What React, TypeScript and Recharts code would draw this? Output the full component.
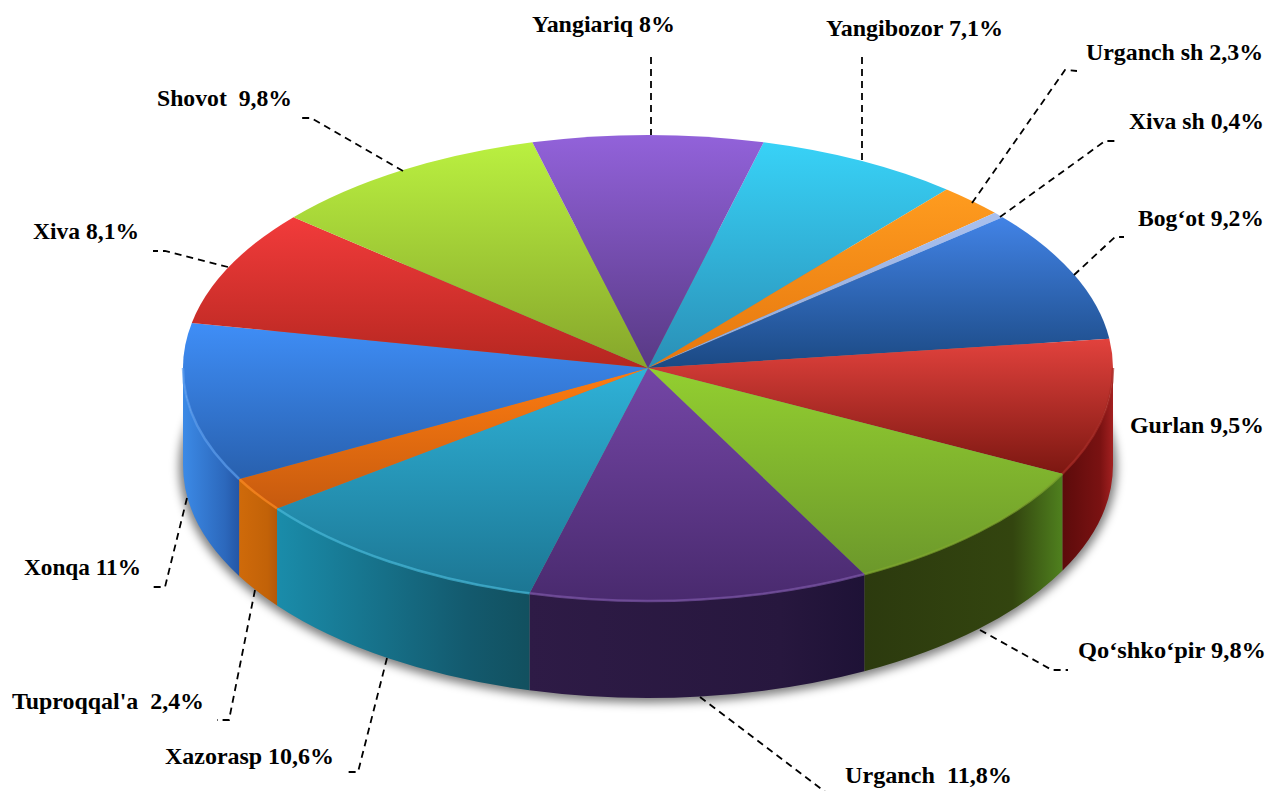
import { PieChart, Pie } from 'recharts'

// 3D-looking pie: Pie computes the angles, the custom shape squashes them into an ellipse
const districts = ['Yangibozor', 'Urganch sh', 'Xiva sh', 'Bog‘ot', 'Gurlan', 'Qo‘shko‘pir', 'Urganch', 'Xazorasp', "Tuproqqal'a", 'Xonqa', 'Xiva', 'Shovot', 'Yangiariq']
const shares = [7.1, 2.3, 0.4, 9.2, 9.5, 9.8, 11.8, 10.6, 2.4, 11, 8.1, 9.8, 8]
const labelTexts = ['Yangibozor 7,1%', 'Urganch sh 2,3%', 'Xiva sh 0,4%', 'Bog‘ot 9,2%', 'Gurlan 9,5%', 'Qo‘shko‘pir 9,8%', 'Urganch  11,8%', 'Xazorasp 10,6%', "Tuproqqal'a  2,4%", 'Xonqa 11%', 'Xiva 8,1%', 'Shovot  9,8%', 'Yangiariq 8%']

const topLight = ['#38d2f7', '#ff9c1f', '#a9c0ee', '#4283e6', '#e2423d', '#93cf30', '#7446a6', '#2fb2d8', '#ff7d10', '#3f8ef7', '#f23b3b', '#baf040', '#9262da']
const topDark = ['#2a8fb6', '#e5760e', '#90a8d8', '#1b4983', '#7c1711', '#6c982b', '#492a6e', '#1c7693', '#c65a0f', '#2860ae', '#b52720', '#86a62b', '#583984']
const wallLeft = ['#2a8fb6', '#e5760e', '#90a8d8', '#1b4983', '#5c0b0b', '#2c3a0e', '#2e1b46', '#1a8caa', '#cf6a0a', '#3c8ae6', '#b52720', '#86a62b', '#583984']
const wallMid = ['#2a8fb6', '#e5760e', '#90a8d8', '#1b4983', '#7a1212', '#33450f', '#27173e', '#135a6e', '#c26208', '#2c68bc', '#b52720', '#86a62b', '#583984']
const wallRight = ['#2a8fb6', '#e5760e', '#90a8d8', '#1b4983', '#a32020', '#4f801e', '#1e1236', '#12505f', '#b55808', '#2456a6', '#b52720', '#86a62b', '#583984']
const rimColors = ['#38d2f7', '#ff9c1f', '#a9c0ee', '#4283e6', '#a82a24', '#7fa82c', '#7c55a8', '#45b8d8', '#ff8a20', '#5a9cf0', '#f23b3b', '#baf040', '#9262da']

const pieData = districts.map((name, i) => ({ name, value: shares[i] }))

const CX = 648
const CY = 368
const RX = 465
const RY = 233
const DEPTH = 97

const labelX = [826, 1086, 1129, 1138, 1130, 1078, 845, 165, 12, 24, 33, 157, 532]
const labelBase = [36, 60, 129, 226, 433, 658, 783, 764, 709, 575, 239, 106, 32]
const labelWidth = [177, 177, 135, 126, 134, 188, 167, 169, 192, 117, 106, 135, 143]
const leaders = [
  '862,57 862,163',
  '972,203 1065,70 1077,71',
  '1000,217 1105,141 1118,141',
  '1074,275 1115,237 1124,237',
  '',
  '980,630 1052,670 1068,670',
  '700,697 832,797',
  '387,658 358,772 345,772',
  '255,590 229,720 217,720',
  '187,498 165,587 153,587',
  '228,267 165,251 153,251',
  '403,171 311,118 302,118',
  '651,57 651,135',
]

const pt = (a: number, dy = 0) => {
  const rad = (a * Math.PI) / 180
  return `${CX + RX * Math.cos(rad)} ${CY - RY * Math.sin(rad) + dy}`
}

function Slice3D(props: any) {
  const { startAngle, endAngle, index } = props
  const large = startAngle - endAngle > 180 ? 1 : 0
  const top = `M ${CX} ${CY} L ${pt(startAngle)} A ${RX} ${RY} 0 ${large} 1 ${pt(endAngle)} Z`
  // only the front half of the rim has a visible wall
  const from = Math.min(startAngle, 0)
  const to = Math.max(endAngle, -180)
  const hasWall = from > to
  return (
    <g>
      {hasWall && (
        <path
          d={`M ${pt(from)} A ${RX} ${RY} 0 0 1 ${pt(to)} L ${pt(to, DEPTH)} A ${RX} ${RY} 0 0 0 ${pt(from, DEPTH)} Z`}
          fill={`url(#wall${index})`}
        />
      )}
      <path d={top} fill={`url(#top${index})`} />
      {hasWall && (
        <path
          d={`M ${pt(from)} A ${RX} ${RY} 0 0 1 ${pt(to)}`}
          fill="none"
          stroke={rimColors[index]}
          strokeWidth={2.5}
          strokeOpacity={0.7}
        />
      )}
    </g>
  )
}

function SliceLabel(props: any) {
  const i = props.index
  return (
    <g>
      {leaders[i] && (
        <polyline points={leaders[i]} fill="none" stroke="#000" strokeWidth={1.8} strokeDasharray="7 5" />
      )}
      <text
        x={labelX[i]}
        y={labelBase[i]}
        textLength={labelWidth[i]}
        lengthAdjust="spacingAndGlyphs"
        fontFamily="'Liberation Serif', serif"
        fontWeight="bold"
        fontSize={24}
        fill="#000"
        style={{ whiteSpace: 'pre' }}
      >
        {labelTexts[i]}
      </text>
    </g>
  )
}

export default function App() {
  return (
    <div style={{ position: 'absolute', left: 0, top: 0, width: 1266, height: 791, background: '#fff', overflow: 'hidden' }}>
      <PieChart width={1266} height={791} margin={{ top: 0, right: 0, bottom: 0, left: 0 }}>
        <defs>
          <filter id="pieShadow" x="-10%" y="-10%" width="120%" height="120%">
            <feGaussianBlur stdDeviation="5" />
          </filter>
          {districts.map((d, i) => (
            <linearGradient key={d} id={`top${i}`} x1="0" y1="0" x2="0" y2="1">
              <stop offset="0%" stopColor={topLight[i]} />
              <stop offset="100%" stopColor={topDark[i]} />
            </linearGradient>
          ))}
          {districts.map((d, i) => (
            <linearGradient key={d} id={`wall${i}`} x1="0" y1="0" x2="1" y2="0">
              <stop offset="0%" stopColor={wallLeft[i]} />
              <stop offset="75%" stopColor={wallMid[i]} />
              <stop offset="100%" stopColor={wallRight[i]} />
            </linearGradient>
          ))}
        </defs>
        <ellipse cx={CX} cy={CY + DEPTH + 2} rx={RX + 4} ry={RY + 3} fill="#000" fillOpacity={0.5} filter="url(#pieShadow)" />
        <Pie
          data={pieData}
          dataKey="value"
          nameKey="name"
          cx={CX}
          cy={CY}
          innerRadius={0}
          outerRadius={RX}
          startAngle={75.6}
          endAngle={-284.4}
          paddingAngle={0}
          stroke="none"
          shape={Slice3D}
          label={SliceLabel}
          labelLine={false}
          isAnimationActive={false}
        />
      </PieChart>
    </div>
  )
}
